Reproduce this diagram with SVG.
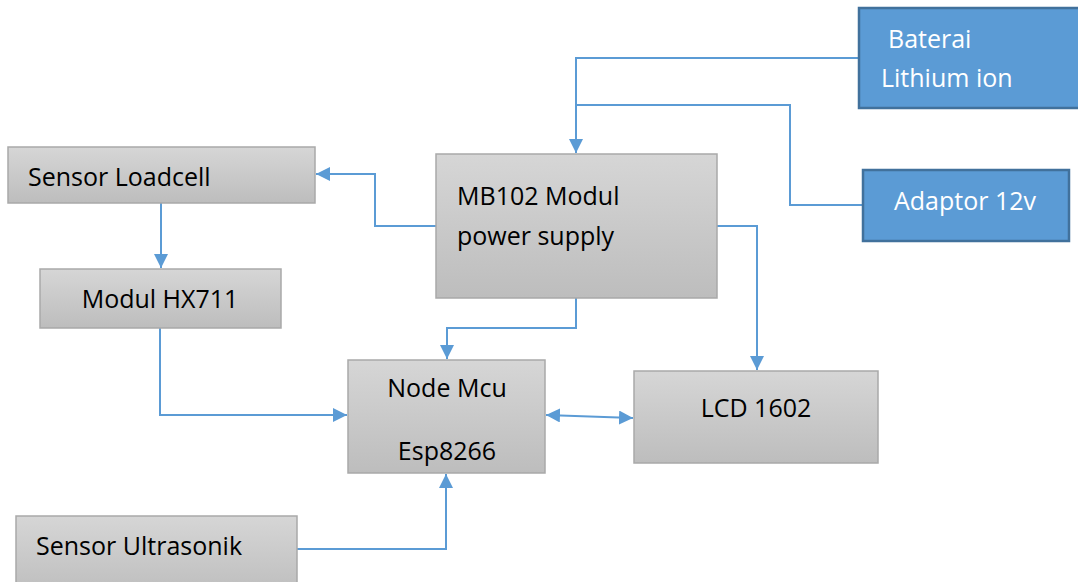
<svg xmlns="http://www.w3.org/2000/svg" width="1078" height="582" viewBox="0 0 1078 582">
<style>
.g{fill:url(#gg);stroke:#a9a9a9;stroke-width:1.5}
.b{fill:#5b9bd5;stroke:#41719c;stroke-width:2.5}
.t{font-family:"Open Sans","Noto Sans",sans-serif;font-size:25px;fill:#000}
.w{font-family:"Open Sans","Noto Sans",sans-serif;font-size:25px;fill:#fff}
.c{fill:none;stroke:#5b9bd5;stroke-width:2}
</style>
<defs>
<linearGradient id="gg" x1="0" y1="0" x2="0" y2="1">
<stop offset="0" stop-color="#d6d6d6"/>
<stop offset="1" stop-color="#bdbdbd"/>
</linearGradient>
<marker id="ah" viewBox="0 0 10 10" refX="10" refY="5" markerWidth="7" markerHeight="7" orient="auto-start-reverse" markerUnits="strokeWidth">
<path d="M0,0 L10,5 L0,10 z" fill="#5b9bd5"/>
</marker>
</defs>
<g id="connectors">
<path class="c" d="M859,58 H576 V153" marker-end="url(#ah)"/>
<path class="c" d="M863,205 H790 V105 H576"/>
<path class="c" d="M436,226 H375 V174 H316" marker-end="url(#ah)"/>
<path class="c" d="M161,203 V268" marker-end="url(#ah)"/>
<path class="c" d="M160,328 V415 H347" marker-end="url(#ah)"/>
<path class="c" d="M576,298 V328 H447 V359" marker-end="url(#ah)"/>
<path class="c" d="M717,226 H757 V370" marker-end="url(#ah)"/>
<path class="c" d="M546,415 L633,418" marker-start="url(#ah)" marker-end="url(#ah)"/>
<path class="c" d="M297,549 H446 V474" marker-end="url(#ah)"/>
</g>
<g id="baterai">
<rect class="b" x="859" y="8" width="222" height="100"/>
<text class="w" x="888" y="48">Baterai</text>
<text class="w" x="881" y="87">Lithium ion</text>
</g>
<g id="adaptor">
<rect class="b" x="863" y="170" width="206" height="71"/>
<text class="w" x="894" y="210">Adaptor 12v</text>
</g>
<g id="mb102">
<rect class="g" x="436" y="154" width="281" height="144"/>
<text class="t" x="457" y="205">MB102 Modul</text>
<text class="t" x="457" y="245">power supply</text>
</g>
<g id="loadcell">
<rect class="g" x="8" y="147" width="307" height="56"/>
<text class="t" x="28" y="186">Sensor Loadcell</text>
</g>
<g id="hx711">
<rect class="g" x="40" y="269" width="241" height="59"/>
<text class="t" x="160" y="308" text-anchor="middle">Modul HX711</text>
</g>
<g id="nodemcu">
<rect class="g" x="348" y="360" width="197" height="113"/>
<text class="t" x="447" y="397" text-anchor="middle">Node Mcu</text>
<text class="t" x="447" y="460" text-anchor="middle">Esp8266</text>
</g>
<g id="lcd">
<rect class="g" x="634" y="371" width="244" height="92"/>
<text class="t" x="756" y="417" text-anchor="middle">LCD 1602</text>
</g>
<g id="ultrasonik">
<rect class="g" x="16" y="516" width="281" height="80"/>
<text class="t" x="36" y="555">Sensor Ultrasonik</text>
</g>
</svg>
